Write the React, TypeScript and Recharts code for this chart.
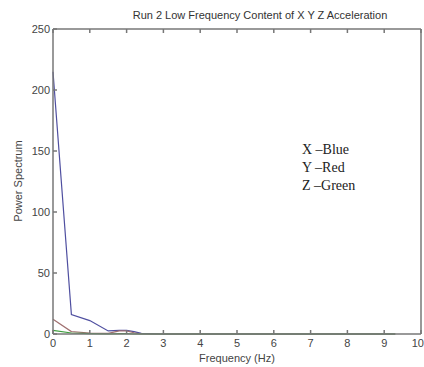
import { LineChart, Line, XAxis, YAxis } from "recharts";

const freq = [0, 0.5, 1, 1.5, 1.8, 2, 2.2, 2.4, 3, 4, 5, 6, 7, 8, 9, 9.3];
const xBlue = [215, 16, 11, 2.5, 3, 3, 2, 0.5, 0, 0, 0, 0, 0, 0, 0, 0];
const yRed = [12, 2, 0.8, 0.5, 2.5, 2.5, 1, 0, 0, 0, 0, 0, 0, 0, 0, 0];
const zGreen = [3, 0.8, 0.3, 0, 0.3, 0.3, 0, 0, 0, 0, 0, 0, 0, 0, 0, 0];
const xTicks = [0, 1, 2, 3, 4, 5, 6, 7, 8, 9, 10];
const yTicks = [0, 50, 100, 150, 200, 250];
const notes = ["X \u2013Blue", "Y \u2013Red", "Z \u2013Green"];

const data = freq.map((f, i) => ({ f, x: xBlue[i], y: yRed[i], z: zGreen[i] }));

const axisColor = "#777";
const font = "Liberation Sans, Arial, sans-serif";
const tickStyle = { fontSize: 11, fill: "#444", fontFamily: font };

// last x label sits at the window edge, anchor it to the end so it stays visible
const XTick = (props: any) => {
  const { x, y, payload } = props;
  const last = payload.value === xTicks[xTicks.length - 1];
  return (
    <text x={last ? x + 3 : x} y={y} dy="0.71em" textAnchor={last ? "end" : "middle"} {...tickStyle}>
      {payload.value}
    </text>
  );
};

const NoTick = () => <g />;

export default function App() {
  return (
    <div style={{ width: 424, height: 367, background: "#fff" }}>
      <style>{"body{margin:0}"}</style>
      <LineChart width={424} height={367} data={data} margin={{ top: 28, right: 2, bottom: 0, left: 0 }}>
        <XAxis
          dataKey="f"
          type="number"
          domain={[0, 10]}
          ticks={xTicks}
          interval={0}
          height={33}
          stroke={axisColor}
          strokeWidth={1.5}
          tickSize={-4}
          tickMargin={9}
          tick={<XTick />}
        />
        <XAxis
          xAxisId="top"
          orientation="top"
          dataKey="f"
          type="number"
          domain={[0, 10]}
          ticks={xTicks}
          interval={0}
          height={1}
          stroke={axisColor}
          strokeWidth={1.5}
          tickSize={-4}
          tick={<NoTick />}
        />
        <YAxis
          type="number"
          domain={[0, 250]}
          ticks={yTicks}
          interval={0}
          width={53}
          stroke={axisColor}
          strokeWidth={1.5}
          tickSize={-4}
          tickMargin={7}
          tick={tickStyle}
        />
        <YAxis
          yAxisId="right"
          orientation="right"
          type="number"
          domain={[0, 250]}
          ticks={yTicks}
          interval={0}
          width={1}
          stroke={axisColor}
          strokeWidth={1.5}
          tickSize={-4}
          tick={<NoTick />}
        />
        <Line dataKey="x" stroke="#4f4fa0" strokeWidth={1.2} dot={false} isAnimationActive={false} />
        <Line dataKey="y" stroke="#a07070" strokeWidth={1.2} dot={false} isAnimationActive={false} />
        <Line dataKey="z" stroke="#3f9f3f" strokeWidth={1.2} dot={false} isAnimationActive={false} />
        <text x={260} y={19} textAnchor="middle" fontSize={11} fill="#333" fontFamily={font}>
          Run 2 Low Frequency Content of X Y Z Acceleration
        </text>
        <text x={22} y={181} transform="rotate(-90 22 181)" textAnchor="middle" fontSize={11} fill="#444" fontFamily={font}>
          Power Spectrum
        </text>
        <text x={237} y={362} textAnchor="middle" fontSize={11} fill="#444" fontFamily={font}>
          Frequency (Hz)
        </text>
        {notes.map((n, i) => (
          <text key={n} x={302} y={154 + i * 18} fontSize={14} fill="#222" fontFamily="Liberation Serif, Times New Roman, serif">
            {n}
          </text>
        ))}
      </LineChart>
    </div>
  );
}
